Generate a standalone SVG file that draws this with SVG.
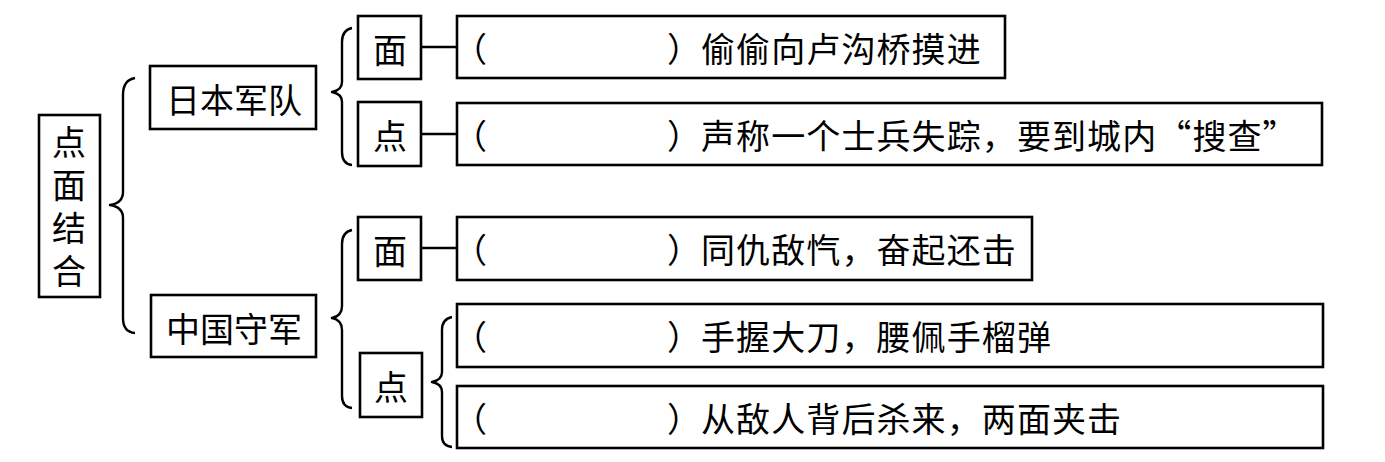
<svg xmlns="http://www.w3.org/2000/svg" width="1385" height="462" viewBox="0 0 1385 462">
<style>
.box{fill:#fff;stroke:#000;stroke-width:2.6}
.ln{fill:none;stroke:#000;stroke-width:2.4}
.br{fill:none;stroke:#000;stroke-width:2.4;stroke-linejoin:round}
.t{font-family:"Noto Sans CJK SC","Noto Sans CJK JP",sans-serif;font-size:34px;fill:#000;dominant-baseline:central}
.c{text-anchor:middle}
.v{font-family:"Noto Sans CJK SC","Noto Sans CJK JP",sans-serif;font-size:34px;fill:#000;writing-mode:vertical-rl;letter-spacing:9px}
.m{letter-spacing:1.1px}
</style>
<rect width="1385" height="462" fill="#fff"/>
<g id="connectors">
<path class="br" d="M135,78 Q123,80 123,95 L123,192 Q123,203 110,205 Q123,207 123,218 L123,318 Q123,332 135,333"/>
<path class="br" d="M352,28 Q342,30 342,42 L342,82 Q342,90 332,92 Q342,94 342,102 L342,152 Q342,164 352,165"/>
<path class="br" d="M352,230 Q342,232 342,244 L342,306 Q342,316 332,318 Q342,320 342,330 L342,396 Q342,407 352,408"/>
<path class="br" d="M452,317 Q442,319 442,330 L442,372 Q442,380 432,382 Q442,384 442,392 L442,436 Q442,446 452,447"/>
<line class="ln" x1="421" y1="47" x2="457" y2="47"/>
<line class="ln" x1="421" y1="134" x2="457" y2="134"/>
<line class="ln" x1="421" y1="248" x2="457" y2="248"/>
</g>
<g id="root">
<rect class="box" x="39" y="115" width="61" height="182"/>
<text class="v" x="69" y="125">点面结合</text>
</g>
<g id="japan">
<rect class="box" x="150" y="66" width="166" height="63"/>
<text class="t c" x="234" y="98">日本军队</text>
</g>
<g id="china">
<rect class="box" x="151" y="295" width="165" height="62"/>
<text class="t c" x="234" y="327">中国守军</text>
</g>
<g id="jp-mian">
<rect class="box" x="358" y="16" width="63" height="63"/>
<text class="t c" x="390" y="48">面</text>
</g>
<g id="jp-dian">
<rect class="box" x="358" y="102" width="63" height="64"/>
<text class="t c" x="390" y="134">点</text>
</g>
<g id="cn-mian">
<rect class="box" x="358" y="217" width="63" height="63"/>
<text class="t c" x="390" y="249">面</text>
</g>
<g id="cn-dian">
<rect class="box" x="360" y="353" width="62" height="64"/>
<text class="t c" x="391" y="385">点</text>
</g>
<g id="item1">
<rect class="box" x="457" y="16" width="548" height="62"/>
<text class="t" y="47"><tspan x="453">（</tspan><tspan x="667">）</tspan><tspan class="m" x="701">偷偷向卢沟桥摸进</tspan></text>
</g>
<g id="item2">
<rect class="box" x="457" y="103" width="865" height="62"/>
<text class="t" y="134"><tspan x="453">（</tspan><tspan x="667">）</tspan><tspan class="m" x="701">声称一个士兵失踪，要到城内“搜查”</tspan></text>
</g>
<g id="item3">
<rect class="box" x="457" y="217" width="575" height="63"/>
<text class="t" y="248"><tspan x="453">（</tspan><tspan x="667">）</tspan><tspan class="m" x="701">同仇敌忾，奋起还击</tspan></text>
</g>
<g id="item4">
<rect class="box" x="457" y="304" width="866" height="63"/>
<text class="t" y="335"><tspan x="453">（</tspan><tspan x="667">）</tspan><tspan class="m" x="701">手握大刀，腰佩手榴弹</tspan></text>
</g>
<g id="item5">
<rect class="box" x="457" y="386" width="866" height="62"/>
<text class="t" y="417"><tspan x="453">（</tspan><tspan x="667">）</tspan><tspan class="m" x="701">从敌人背后杀来，两面夹击</tspan></text>
</g>
</svg>
